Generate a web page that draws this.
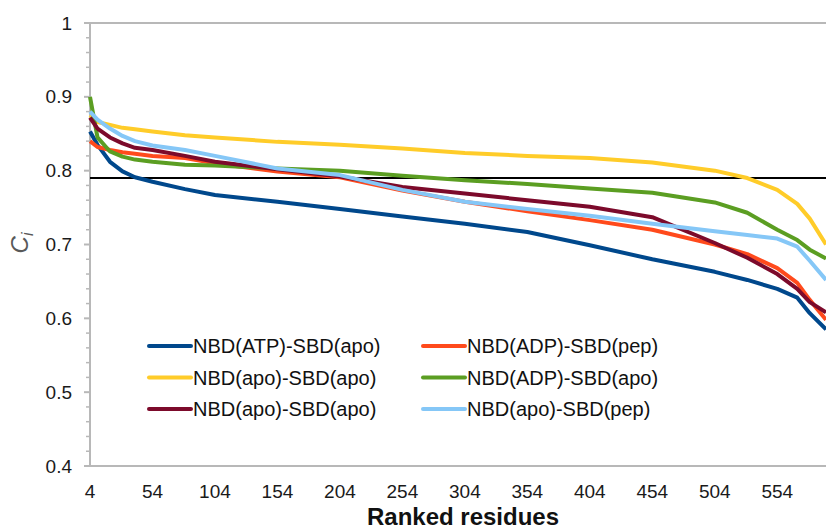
<!DOCTYPE html>
<html>
<head>
<meta charset="utf-8">
<script src="https://cdn.jsdelivr.net/npm/d3@7"></script>
<style>
  body { margin: 0; background: #fff; }
  svg { display: block; font-family: 'Liberation Sans', Arial, sans-serif; }
</style>
</head>
<body>
<div id="chart"></div>
<script>
var ranks = [4, 10, 20, 30, 40, 54, 80, 104, 154, 204, 254, 304, 354, 404, 454, 504, 530, 554, 570, 580, 593]

var atpApo = [0.853, 0.835, 0.812, 0.799, 0.791, 0.785, 0.775, 0.767, 0.758, 0.748, 0.738, 0.728, 0.717, 0.699, 0.68, 0.663, 0.652, 0.64, 0.628, 0.607, 0.585]
var adpPep = [0.84, 0.832, 0.828, 0.825, 0.823, 0.82, 0.817, 0.81, 0.799, 0.791, 0.773, 0.758, 0.745, 0.733, 0.72, 0.7, 0.687, 0.668, 0.648, 0.625, 0.598]
var apoApo1 = [0.875, 0.866, 0.862, 0.858, 0.856, 0.853, 0.848, 0.845, 0.839, 0.835, 0.83, 0.824, 0.82, 0.817, 0.811, 0.8, 0.79, 0.774, 0.755, 0.735, 0.7]
var adpApo = [0.9, 0.845, 0.826, 0.819, 0.815, 0.812, 0.808, 0.807, 0.803, 0.8, 0.793, 0.787, 0.782, 0.776, 0.77, 0.757, 0.743, 0.72, 0.706, 0.693, 0.681]
var apoApo2 = [0.872, 0.857, 0.845, 0.837, 0.831, 0.828, 0.82, 0.812, 0.802, 0.792, 0.778, 0.769, 0.76, 0.751, 0.737, 0.702, 0.682, 0.66, 0.64, 0.622, 0.608]
var apoPep = [0.88, 0.869, 0.857, 0.847, 0.84, 0.834, 0.828, 0.82, 0.803, 0.794, 0.774, 0.758, 0.748, 0.739, 0.728, 0.718, 0.713, 0.708, 0.697, 0.678, 0.652]

var seriesNames = ['NBD(ATP)-SBD(apo)', 'NBD(ADP)-SBD(pep)', 'NBD(apo)-SBD(apo)', 'NBD(ADP)-SBD(apo)', 'NBD(apo)-SBD(apo)', 'NBD(apo)-SBD(pep)']
var seriesValues = [atpApo, adpPep, apoApo1, adpApo, apoApo2, apoPep]
var seriesColors = ['#00488c', '#ff4a1c', '#ffcc29', '#5b9e22', '#7c0a2b', '#85c7f7']

var xTicks = [4, 54, 104, 154, 204, 254, 304, 354, 404, 454, 504, 554]
var yTicks = [0.4, 0.5, 0.6, 0.7, 0.8, 0.9, 1]
var threshold = 0.79

var width = 826
var height = 531
var margin = { top: 23, left: 90, right: 0, bottom: 65 }

var svg = d3
  .select('#chart')
  .append('svg')
  .attr('width', width)
  .attr('height', height)

var xScale = d3
  .scaleLinear()
  .domain([4, 593])
  .range([margin.left, width - margin.right])

var yScale = d3
  .scaleLinear()
  .domain([0.4, 1])
  .range([height - margin.bottom, margin.top])

var axisColor = '#b8b8b8'

// minor ticks every 0.02
var minorTicks = d3.range(0.42, 1, 0.02).filter(d => Math.abs(d * 10 - Math.round(d * 10)) > 0.01)

svg
  .selectAll('.minor')
  .data(minorTicks)
  .enter()
  .append('line')
  .attr('x1', margin.left - 4)
  .attr('x2', margin.left)
  .attr('y1', d => yScale(d))
  .attr('y2', d => yScale(d))
  .attr('stroke', axisColor)
  .attr('stroke-width', 1.5)

svg
  .selectAll('.major')
  .data(yTicks)
  .enter()
  .append('line')
  .attr('x1', margin.left - 6)
  .attr('x2', margin.left)
  .attr('y1', d => yScale(d))
  .attr('y2', d => yScale(d))
  .attr('stroke', axisColor)
  .attr('stroke-width', 2)

// left axis, bottom axis, top border
svg.append('line')
  .attr('x1', margin.left).attr('x2', margin.left)
  .attr('y1', yScale(1)).attr('y2', yScale(0.4))
  .attr('stroke', axisColor).attr('stroke-width', 2)

svg.append('line')
  .attr('x1', margin.left - 6).attr('x2', width)
  .attr('y1', yScale(0.4)).attr('y2', yScale(0.4))
  .attr('stroke', axisColor).attr('stroke-width', 2)

svg.append('line')
  .attr('x1', margin.left - 6).attr('x2', width)
  .attr('y1', yScale(1)).attr('y2', yScale(1))
  .attr('stroke', axisColor).attr('stroke-width', 2)

svg
  .selectAll('.y-label')
  .data(yTicks)
  .enter()
  .append('text')
  .attr('x', 72)
  .attr('y', d => yScale(d))
  .attr('dy', '0.35em')
  .attr('text-anchor', 'end')
  .attr('font-size', 19)
  .attr('fill', '#1a1a1a')
  .text(d => d3.format('~g')(d))

svg
  .selectAll('.x-label')
  .data(xTicks)
  .enter()
  .append('text')
  .attr('x', d => xScale(d))
  .attr('y', 498)
  .attr('text-anchor', 'middle')
  .attr('font-size', 19)
  .attr('fill', '#1a1a1a')
  .text(d => d)

svg
  .append('text')
  .attr('x', 463)
  .attr('y', 525)
  .attr('text-anchor', 'middle')
  .attr('font-size', 24)
  .attr('font-weight', 700)
  .attr('fill', '#111')
  .text('Ranked residues')

var yTitle = svg
  .append('text')
  .attr('transform', 'translate(28,243) rotate(-90)')
  .attr('text-anchor', 'middle')
  .attr('font-size', 24)
  .attr('font-style', 'italic')
  .attr('fill', '#595959')
yTitle.append('tspan').text('C')
yTitle.append('tspan').attr('font-size', 16).attr('dy', 5).text('i')

// threshold line
svg.append('line')
  .attr('x1', margin.left).attr('x2', width)
  .attr('y1', yScale(threshold)).attr('y2', yScale(threshold))
  .attr('stroke', '#000').attr('stroke-width', 2)

var line = d3
  .line()
  .x((d, i) => xScale(ranks[i]))
  .y(d => yScale(d))

var plot = svg.append('g')

plot
  .selectAll('.series')
  .data(seriesValues)
  .enter()
  .append('path')
  .attr('class', 'series')
  .attr('d', line)
  .attr('fill', 'none')
  .attr('stroke', (d, i) => seriesColors[i])
  .attr('stroke-width', 4)
  .attr('stroke-linejoin', 'round')

// legend, two columns filled row by row
var legend = svg
  .selectAll('.legend')
  .data(seriesNames)
  .enter()
  .append('g')
  .attr('class', 'legend')
  .attr('transform', (d, i) => 'translate(' + (i % 2 === 0 ? 149 : 423) + ',' + (346 + Math.floor(i / 2) * 31.5) + ')')

legend
  .append('line')
  .attr('x1', 0)
  .attr('x2', 42)
  .attr('stroke', (d, i) => seriesColors[i])
  .attr('stroke-width', 4)
  .attr('stroke-linecap', 'round')

legend
  .append('text')
  .attr('x', 44)
  .attr('dy', '0.35em')
  .attr('font-size', 20)
  .attr('fill', '#111')
  .text(d => d)
</script>
</body>
</html>
